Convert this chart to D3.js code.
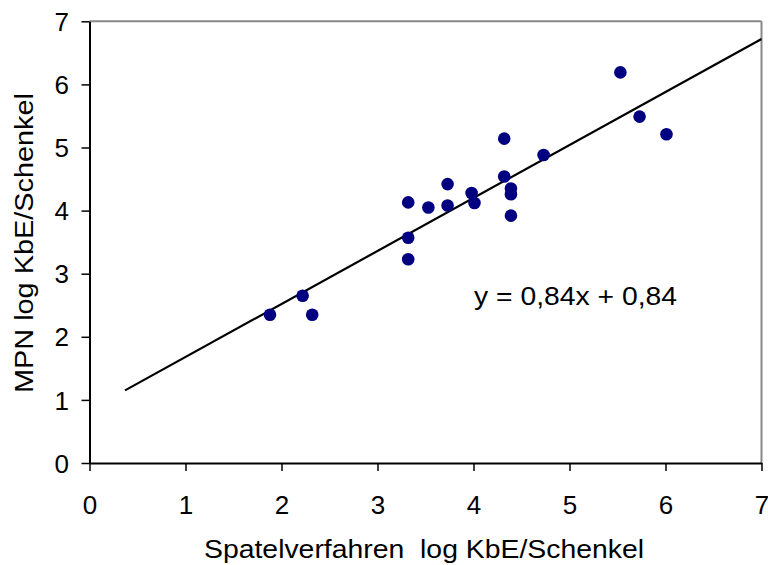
<!DOCTYPE html>
<html>
<head>
<meta charset="utf-8">
<script src="https://cdn.jsdelivr.net/npm/d3@7"></script>
<style>
  body { margin: 0; background: #fff; }
  svg text { font-family: "Liberation Sans", Arial, sans-serif; fill: #000; }
</style>
</head>
<body>
<div id="chart"></div>
<script>
// Spatelverfahren (x) vs MPN (y), log KbE/Schenkel
const spatel = [1.88, 2.22, 2.32, 3.32, 3.32, 3.32, 3.53, 3.73, 3.73, 3.98,
                4.01, 4.32, 4.32, 4.39, 4.39, 4.39, 4.73, 5.53, 5.73, 6.01];
const mpn    = [2.35, 2.65, 2.35, 4.13, 3.57, 3.23, 4.05, 4.42, 4.08, 4.28,
                4.12, 5.14, 4.54, 4.35, 4.26, 3.92, 4.88, 6.19, 5.49, 5.21];

// regression line y = 0,84x + 0,84 (as drawn, incl. forecast)
const slope = 0.84;
const intercept = 0.84;
const trendRange = [0.37, 7];

const xTicks = [0, 1, 2, 3, 4, 5, 6, 7];
const yTicks = [0, 1, 2, 3, 4, 5, 6, 7];

const width = 768, height = 565;

const svg = d3.select('#chart')
  .append('svg')
  .attr('width', width)
  .attr('height', height);

const x = d3.scaleLinear().domain([0, 7]).range([89.5, 761.5]);
const y = d3.scaleLinear().domain([0, 7]).range([463, 21.3]);

// grey frame on top and right
svg.append('line')
  .attr('x1', x(0)).attr('x2', x(7))
  .attr('y1', y(7)).attr('y2', y(7))
  .attr('stroke', '#888').attr('stroke-width', 2);
svg.append('line')
  .attr('x1', x(7)).attr('x2', x(7))
  .attr('y1', y(7)).attr('y2', y(0))
  .attr('stroke', '#888').attr('stroke-width', 2);

// x axis
const xAxis = svg.append('g')
  .attr('transform', `translate(0,${y(0)})`)
  .call(d3.axisBottom(x).tickValues(xTicks).tickSize(8).tickSizeOuter(0)
    .tickFormat(d3.format('d')));
xAxis.selectAll('text')
  .attr('y', 51).attr('dy', 0)
  .style('font-size', '26px');

// y axis
const yAxis = svg.append('g')
  .attr('transform', `translate(${x(0)},0)`)
  .call(d3.axisLeft(y).tickValues(yTicks).tickSize(8).tickSizeOuter(0)
    .tickPadding(12.5).tickFormat(d3.format('d')));
yAxis.selectAll('text')
  .attr('dy', '0.35em')
  .style('font-size', '26px');

[xAxis, yAxis].forEach(a => {
  a.select('.domain').attr('stroke', '#000').attr('stroke-width', 2);
  a.selectAll('.tick line').attr('stroke', '#000').attr('stroke-width', 1.5);
});

// trend line
const line = d3.line().x(d => x(d)).y(d => y(slope * d + intercept));
svg.append('path')
  .attr('d', line(trendRange))
  .attr('fill', 'none')
  .attr('stroke', '#000')
  .attr('stroke-width', 2.2);

// points
svg.append('g')
  .selectAll('circle')
  .data(spatel.map((v, i) => [v, mpn[i]]))
  .join('circle')
  .attr('cx', d => x(d[0]))
  .attr('cy', d => y(d[1]))
  .attr('r', 6.3)
  .attr('fill', '#000080');

// equation label
svg.append('text')
  .attr('x', 474).attr('y', 305)
  .attr('textLength', 203)
  .attr('lengthAdjust', 'spacingAndGlyphs')
  .style('font-size', '25px')
  .text('y = 0,84x + 0,84');

// axis titles
svg.append('text')
  .attr('x', 204).attr('y', 558)
  .attr('textLength', 440)
  .attr('lengthAdjust', 'spacingAndGlyphs')
  .style('font-size', '26px')
  .style('white-space', 'pre')
  .text('Spatelverfahren  log KbE/Schenkel');

svg.append('text')
  .attr('transform', 'translate(33,393) rotate(-90)')
  .attr('textLength', 300)
  .attr('lengthAdjust', 'spacingAndGlyphs')
  .style('font-size', '26px')
  .text('MPN log KbE/Schenkel');
</script>
</body>
</html>
